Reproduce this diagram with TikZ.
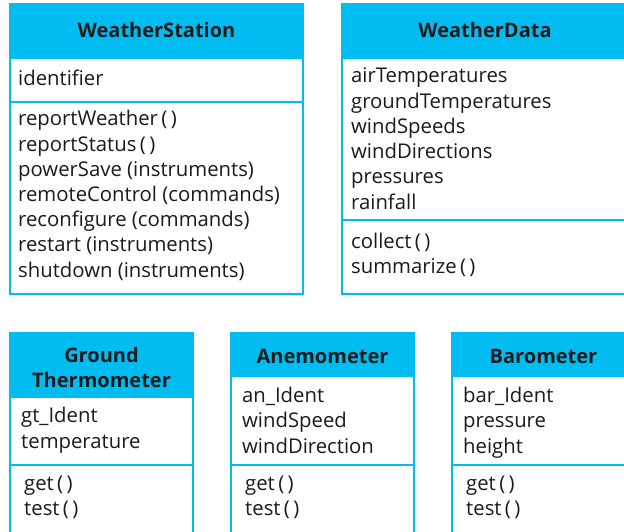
\documentclass[tikz,border=0pt]{standalone}
\usepackage{fontspec}
\setmainfont{Open Sans}
\definecolor{umlcyan}{RGB}{0,188,240}
\definecolor{umltext}{RGB}{28,26,27}
\begin{document}
\begin{tikzpicture}[x=1pt,y=-1pt,
  frame/.style={draw=umlcyan,line width=2pt},
  headfill/.style={fill=umlcyan},
  sepline/.style={draw=umlcyan,line width=1.4pt},
  txt/.style={anchor=base west,inner sep=0pt,font=\fontsize{20.3}{25}\selectfont,text=umltext},
  ttl/.style={anchor=base,inner sep=0pt,font=\fontsize{20}{25}\selectfont\bfseries,text=umltext}]
\path[use as bounding box,clip] (0,0) rectangle (624,532);
\fill[white] (0,0) rectangle (624,532);

% WeatherStation
\fill[headfill] (10,4) rectangle (303,58);
\draw[sepline] (10,58) -- (303,58);
\draw[sepline] (10,102) -- (303,102);
\draw[frame] (10,4) rectangle (303,294);
\node[ttl] (ws-t) at (156.5,38) {WeatherStation};
\node[txt] (ws-a1) at (18,86) {identifier};
\foreach \t [count=\i] in {reportWeather\,(\,),reportStatus\,(\,),powerSave (instruments),remoteControl (commands),reconfigure (commands),restart (instruments),shutdown (instruments)}
  \node[txt] (ws-o\i) at (18,{126+25.17*(\i-1)}) {\t};

% WeatherData
\fill[headfill] (342,4) rectangle (628,58);
\draw[sepline] (342,58) -- (628,58);
\draw[sepline] (342,220) -- (628,220);
\draw[frame] (342,4) rectangle (628,294);
\node[ttl] (wd-t) at (485,38) {WeatherData};
\foreach \t [count=\i] in {airTemperatures,groundTemperatures,windSpeeds,windDirections,pressures,rainfall}
  \node[txt] (wd-a\i) at (351,{83+25.2*(\i-1)}) {\t};
\node[txt] (wd-o1) at (351,248) {collect\,(\,)};
\node[txt] (wd-o2) at (351,273) {summarize\,(\,)};

% Ground Thermometer
\fill[headfill] (10,333) rectangle (193,397);
\draw[sepline] (10,397) -- (193,397);
\draw[sepline] (10,465) -- (193,465);
\draw[frame] (10,333) rectangle (193,545);
\node[ttl] (gt-t1) at (101.5,362) {Ground};
\node[ttl] (gt-t2) at (101.5,387) {Thermometer};
\node[txt] (gt-a1) at (21,422) {gt\_Ident};
\node[txt] (gt-a2) at (21,448) {temperature};
\node[txt] (gt-o1) at (24,490) {get\,(\,)};
\node[txt] (gt-o2) at (24,515) {test\,(\,)};

% Anemometer
\fill[headfill] (231,333) rectangle (414,376);
\draw[sepline] (231,376) -- (414,376);
\draw[sepline] (231,465) -- (414,465);
\draw[frame] (231,333) rectangle (414,545);
\node[ttl] (an-t) at (322.5,363) {Anemometer};
\node[txt] (an-a1) at (242,402) {an\_Ident};
\node[txt] (an-a2) at (242,427.5) {windSpeed};
\node[txt] (an-a3) at (242,453) {windDirection};
\node[txt] (an-o1) at (245,490) {get\,(\,)};
\node[txt] (an-o2) at (245,515) {test\,(\,)};

% Barometer
\fill[headfill] (452,333) rectangle (635,376);
\draw[sepline] (452,376) -- (635,376);
\draw[sepline] (452,465) -- (635,465);
\draw[frame] (452,333) rectangle (635,545);
\node[ttl] (ba-t) at (543.5,363) {Barometer};
\node[txt] (ba-a1) at (463,402) {bar\_Ident};
\node[txt] (ba-a2) at (463,427.5) {pressure};
\node[txt] (ba-a3) at (463,453) {height};
\node[txt] (ba-o1) at (466,490) {get\,(\,)};
\node[txt] (ba-o2) at (466,515) {test\,(\,)};
\end{tikzpicture}
\end{document}
